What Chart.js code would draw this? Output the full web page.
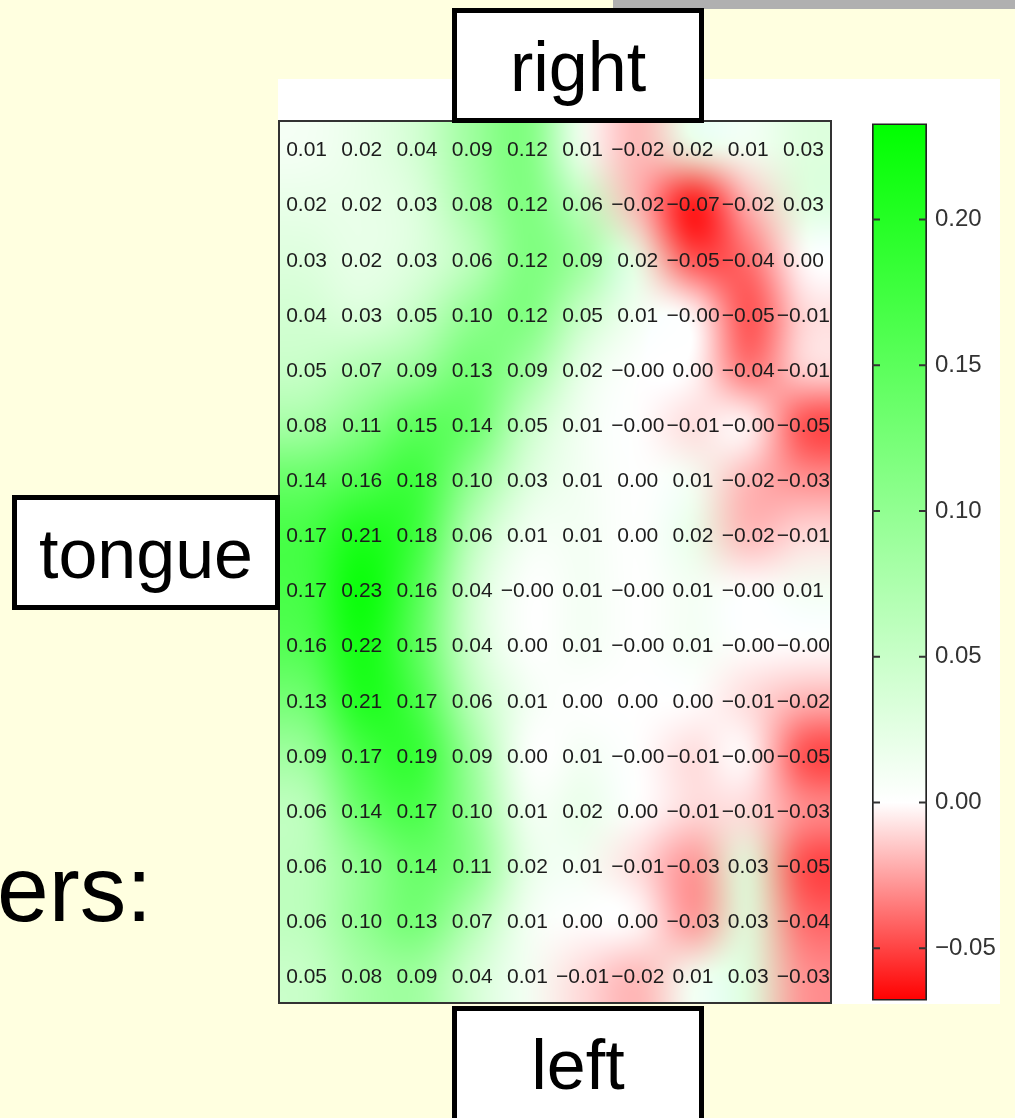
<!DOCTYPE html>
<html>
<head>
<meta charset="utf-8">
<title>tongue heatmap</title>
<script src="https://cdn.jsdelivr.net/npm/chart.js@4/dist/chart.umd.min.js"></script>
<style>
  html, body { margin: 0; padding: 0; }
  body {
    width: 1015px; height: 1118px; position: relative; overflow: hidden;
    background: #ffffe0;
    font-family: "Liberation Sans", Arial, Helvetica, sans-serif;
  }
  .topbar { position: absolute; left: 613px; top: 0; width: 402px; height: 9px; background: #b0b0b0; }
  .panel { position: absolute; left: 278px; top: 79px; width: 722px; height: 925px; background: #fff; }
  .box {
    position: absolute; box-sizing: border-box; background: #fff; border: 5px solid #000;
    display: flex; align-items: center; justify-content: center;
    font-size: 70px; line-height: 70px; color: #000; z-index: 5;
  }
  .bodytext { position: absolute; left: -3px; top: 843px; font-size: 93px; line-height: 93px; color: #000; white-space: nowrap; }
  #heatWrap { position: absolute; left: 269px; top: 111px; width: 572px; height: 902px; z-index: 2; }
  #barWrap { position: absolute; left: 862px; top: 101px; width: 150px; height: 922px; z-index: 2; }
  canvas { display: block; }
</style>
</head>
<body>
<div class="topbar"></div>
<div class="panel"></div>
<div class="bodytext">ers:</div>

<div id="heatWrap"><canvas id="heat" width="572" height="902"></canvas></div>
<div id="barWrap"><canvas id="cbar" width="150" height="922"></canvas></div>

<div class="box" style="left:452px;top:8px;width:252px;height:115px;padding-top:3px;">right</div>
<div class="box" style="left:12px;top:495px;width:268px;height:115px;padding-top:3px;">tongue</div>
<div class="box" style="left:452px;top:1006px;width:252px;height:118px;">left</div>

<script>
// Correlation values, one array per row (top = right side, bottom = left side).
const row01 = [0.01, 0.02, 0.04, 0.09, 0.12, 0.01, -0.02, 0.02, 0.01, 0.03];
const row02 = [0.02, 0.02, 0.03, 0.08, 0.12, 0.06, -0.02, -0.07, -0.02, 0.03];
const row03 = [0.03, 0.02, 0.03, 0.06, 0.12, 0.09, 0.02, -0.05, -0.04, 0.00];
const row04 = [0.04, 0.03, 0.05, 0.10, 0.12, 0.05, 0.01, -0.00, -0.05, -0.01];
const row05 = [0.05, 0.07, 0.09, 0.13, 0.09, 0.02, -0.00, 0.00, -0.04, -0.01];
const row06 = [0.08, 0.11, 0.15, 0.14, 0.05, 0.01, -0.00, -0.01, -0.00, -0.05];
const row07 = [0.14, 0.16, 0.18, 0.10, 0.03, 0.01, 0.00, 0.01, -0.02, -0.03];
const row08 = [0.17, 0.21, 0.18, 0.06, 0.01, 0.01, 0.00, 0.02, -0.02, -0.01];
const row09 = [0.17, 0.23, 0.16, 0.04, -0.00, 0.01, -0.00, 0.01, -0.00, 0.01];
const row10 = [0.16, 0.22, 0.15, 0.04, 0.00, 0.01, -0.00, 0.01, -0.00, -0.00];
const row11 = [0.13, 0.21, 0.17, 0.06, 0.01, 0.00, 0.00, 0.00, -0.01, -0.02];
const row12 = [0.09, 0.17, 0.19, 0.09, 0.00, 0.01, -0.00, -0.01, -0.00, -0.05];
const row13 = [0.06, 0.14, 0.17, 0.10, 0.01, 0.02, 0.00, -0.01, -0.01, -0.03];
const row14 = [0.06, 0.10, 0.14, 0.11, 0.02, 0.01, -0.01, -0.03, 0.03, -0.05];
const row15 = [0.06, 0.10, 0.13, 0.07, 0.01, 0.00, 0.00, -0.03, 0.03, -0.04];
const row16 = [0.05, 0.08, 0.09, 0.04, 0.01, -0.01, -0.02, 0.01, 0.03, -0.03];
const gridRows = [row01, row02, row03, row04, row05, row06, row07, row08,
                  row09, row10, row11, row12, row13, row14, row15, row16];

// Colour range of the palette and the colour-bar tick values.
const colorMin = -0.068;
const colorMax = 0.233;
const colorbarTicks = [-0.05, 0.00, 0.05, 0.10, 0.15, 0.20];

const FONT = '"Liberation Sans", Arial, Helvetica, sans-serif';
const nRows = gridRows.length;
const nCols = gridRows[0].length;

// red -> white -> green palette, white at zero
function paletteRGB(v) {
  if (v >= 0) {
    const t = Math.min(1, v / colorMax);
    const c = Math.round(255 * (1 - t));
    return [c, 255, c];
  }
  const t = Math.min(1, v / colorMin);
  const c = Math.round(255 * (1 - t));
  return [255, c, c];
}

function fmt(v) {
  const neg = v < 0 || Object.is(v, -0);
  return (neg ? '\u2212' : '') + Math.abs(v).toFixed(2);
}

const cells = [];
gridRows.forEach((row, r) => row.forEach((v, c) => cells.push({ x: c, y: r, v })));

// Paints the smoothed value image and the per-cell numbers on the chart area.
const heatLayer = {
  id: 'heatLayer',
  beforeDatasetsDraw(chart) {
    const { ctx, scales: { x, y } } = chart;
    const off = document.createElement('canvas');
    off.width = nCols; off.height = nRows;
    const octx = off.getContext('2d');
    const img = octx.createImageData(nCols, nRows);
    chart.data.datasets[0].data.forEach(p => {
      const [r, g, b] = paletteRGB(p.v);
      const i = (p.y * nCols + p.x) * 4;
      img.data[i] = r; img.data[i + 1] = g; img.data[i + 2] = b; img.data[i + 3] = 255;
    });
    octx.putImageData(img, 0, 0);
    const left = x.getPixelForValue(-0.5), right = x.getPixelForValue(nCols - 0.5);
    const top = y.getPixelForValue(-0.5), bottom = y.getPixelForValue(nRows - 0.5);
    ctx.save();
    ctx.imageSmoothingEnabled = true;
    ctx.imageSmoothingQuality = 'high';
    ctx.drawImage(off, left, top, right - left, bottom - top);
    ctx.restore();
  },
  afterDatasetsDraw(chart) {
    const { ctx, scales: { x, y }, chartArea: a } = chart;
    ctx.save();
    ctx.fillStyle = '#1c1c1c';
    ctx.font = '21px ' + FONT;
    ctx.textAlign = 'center';
    ctx.textBaseline = 'middle';
    chart.data.datasets[0].data.forEach(p => {
      ctx.fillText(fmt(p.v), x.getPixelForValue(p.x), y.getPixelForValue(p.y) + 2);
    });
    ctx.strokeStyle = '#333';
    ctx.lineWidth = 2;
    ctx.strokeRect(a.left, a.top, a.right - a.left, a.bottom - a.top);
    ctx.restore();
  }
};

new Chart(document.getElementById('heat'), {
  type: 'scatter',
  data: { datasets: [{ data: cells, pointRadius: 0, pointHoverRadius: 0 }] },
  options: {
    responsive: false, animation: false, devicePixelRatio: 1,
    events: [],
    layout: { padding: 10 },
    plugins: { legend: { display: false }, tooltip: { enabled: false } },
    scales: {
      x: { type: 'linear', min: -0.5, max: nCols - 0.5, display: false },
      y: { type: 'linear', min: -0.5, max: nRows - 0.5, reverse: true, display: false }
    }
  },
  plugins: [heatLayer]
});

// Short inward tick marks on both sides of the colour bar.
const barTicks = {
  id: 'barTicks',
  afterDatasetsDraw(chart) {
    const { ctx, scales: { y }, chartArea: a } = chart;
    ctx.save();
    ctx.strokeStyle = '#333';
    ctx.lineWidth = 2;
    colorbarTicks.forEach(v => {
      const py = y.getPixelForValue(v);
      ctx.beginPath();
      ctx.moveTo(a.left, py); ctx.lineTo(a.left + 8, py);
      ctx.moveTo(a.right - 8, py); ctx.lineTo(a.right, py);
      ctx.stroke();
    });
    ctx.restore();
  }
};

function barGradient(context) {
  const chart = context.chart;
  const y = chart.scales.y;
  if (!chart.chartArea || !y) return '#fff';
  const g = chart.ctx.createLinearGradient(0, y.getPixelForValue(colorMax), 0, y.getPixelForValue(colorMin));
  g.addColorStop(0, 'rgb(0,255,0)');
  g.addColorStop(colorMax / (colorMax - colorMin), 'rgb(255,255,255)');
  g.addColorStop(1, 'rgb(255,0,0)');
  return g;
}

new Chart(document.getElementById('cbar'), {
  type: 'bar',
  data: {
    labels: [''],
    datasets: [{
      data: [[colorMin, colorMax]],
      backgroundColor: barGradient,
      borderColor: '#222', borderWidth: 2, borderSkipped: false,
      barPercentage: 1, categoryPercentage: 1
    }]
  },
  options: {
    responsive: false, animation: false, devicePixelRatio: 1,
    events: [],
    layout: { padding: { left: 10, right: 5, top: 20, bottom: 20 } },
    plugins: { legend: { display: false }, tooltip: { enabled: false } },
    scales: {
      x: { display: false },
      y: {
        position: 'right', min: colorMin, max: colorMax,
        grid: { display: false, drawTicks: false },
        border: { display: false },
        afterBuildTicks(scale) { scale.ticks = colorbarTicks.map(v => ({ value: v })); },
        afterFit(scale) { scale.width = 80; },
        ticks: {
          padding: 8, color: '#333',
          font: { family: FONT, size: 24 },
          callback: v => fmt(v)
        }
      }
    }
  },
  plugins: [barTicks]
});
</script>
</body>
</html>
